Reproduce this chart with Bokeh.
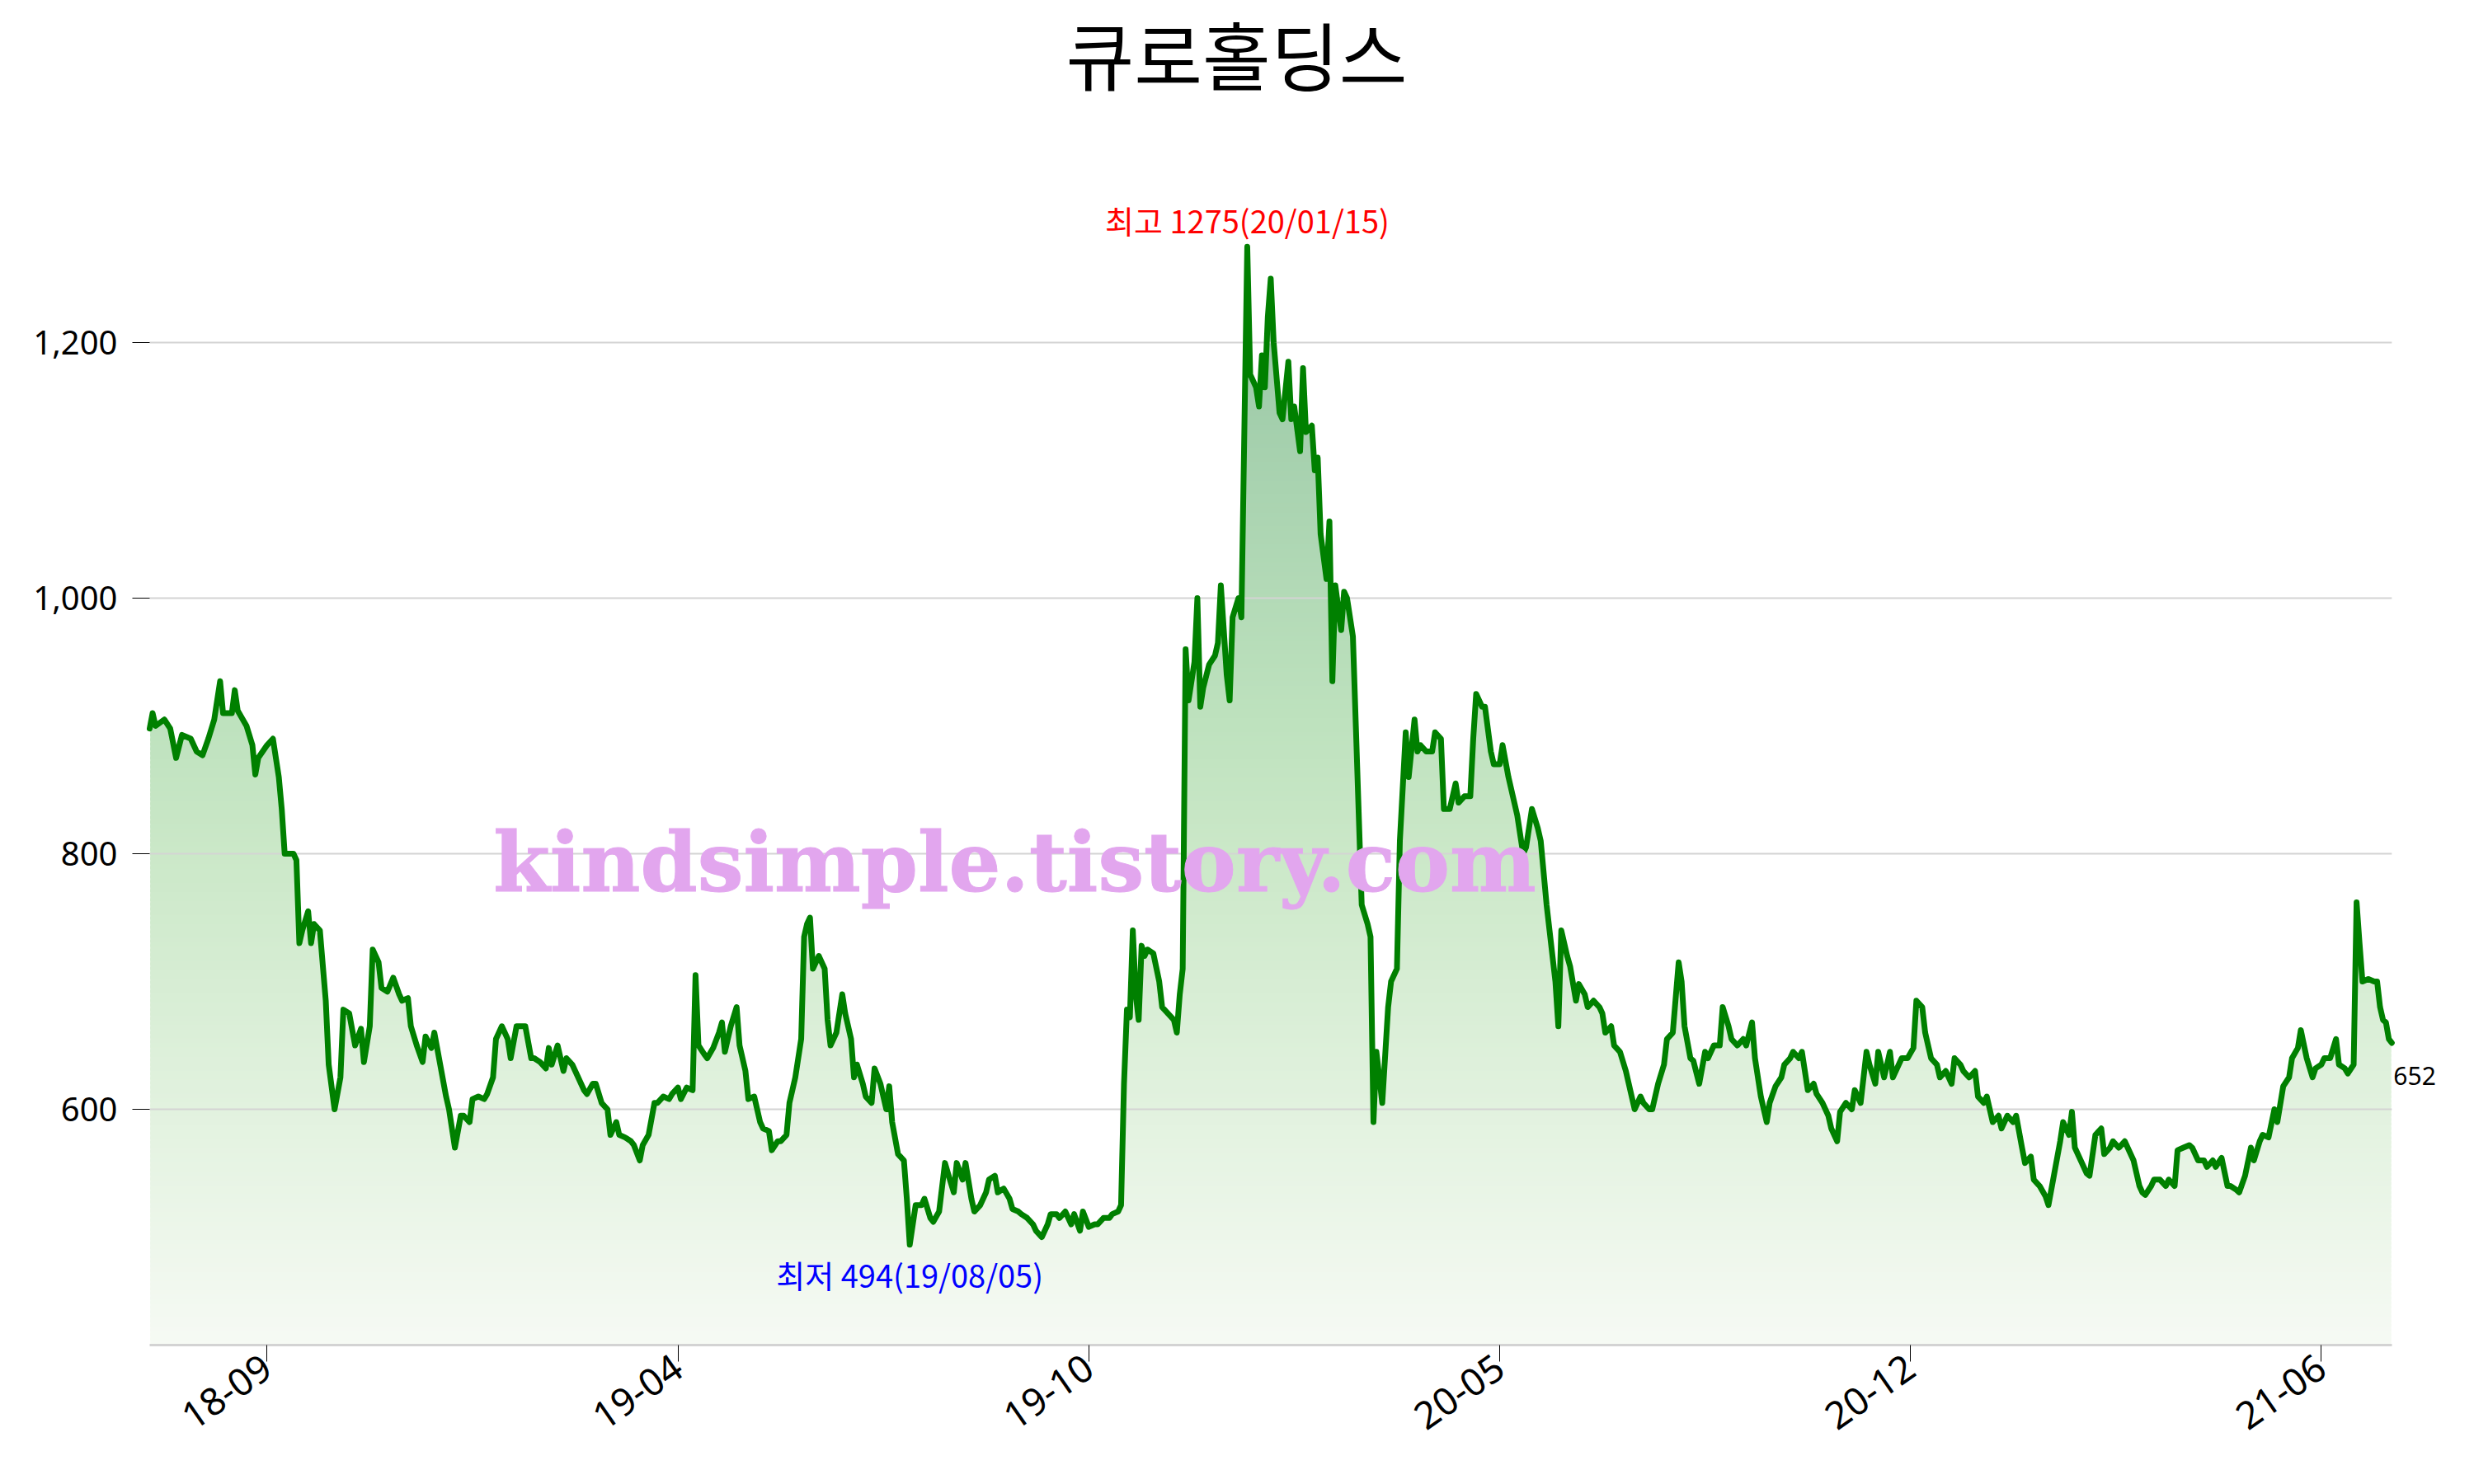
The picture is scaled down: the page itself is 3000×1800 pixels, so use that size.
import numpy as np
from math import radians
from bokeh.plotting import figure
from bokeh.models import Range1d, FixedTicker, NumeralTickFormatter, Label
from bokeh.embed import file_html
from bokeh.resources import INLINE

title_text = "큐로홀딩스"
high_date = "20/01/15"
low_date = "19/08/05"
watermark_text = "kindsimple.tistory.com"

# trading-day number (from first day shown) and closing price
day = [0, 1, 2, 5, 7, 9, 11, 14, 16, 18, 20, 22, 24, 25, 28, 29, 30, 33, 35, 36, 37, 40, 42, 44, 45, 46, 49, 50, 51, 52,
       54, 55, 56, 58, 60, 61, 63, 65, 66, 68, 70, 72, 73, 75, 76, 78, 79, 81, 83, 85, 86, 88, 89, 91, 93, 94, 96, 97, 99, 101,
       102, 104, 106, 107, 109, 110, 112, 114, 115, 117, 118, 120, 122, 123, 125, 127, 128, 130, 131, 133, 135, 136, 137, 139, 141, 142, 144, 145, 148, 149,
       151, 152, 154, 156, 157, 159, 160, 162, 164, 165, 167, 168, 170, 172, 173, 175, 177, 178, 180, 181, 183, 185, 186, 187, 189, 190, 192, 194, 195, 196,
       198, 200, 201, 203, 204, 206, 208, 209, 211, 212, 214, 215, 217, 218, 220, 222, 223, 224, 225, 226, 228, 230, 231, 232, 234, 236, 237, 239, 240, 241,
       243, 244, 246, 247, 249, 251, 252, 253, 255, 257, 258, 259, 261, 263, 264, 266, 267, 269, 271, 272, 274, 275, 277, 278, 280, 281, 283, 285, 286, 288,
       289, 291, 293, 294, 296, 297, 299, 301, 302, 304, 306, 307, 309, 310, 312, 314, 315, 317, 318, 320, 322, 323, 325, 327, 328, 330, 331, 332, 333, 334,
       335, 336, 337, 338, 339, 340, 342, 344, 345, 347, 349, 350, 351, 352, 353, 354, 356, 357, 358, 359, 361, 363, 364, 365, 366, 367, 368, 369, 371, 372,
       374, 375, 377, 378, 379, 380, 381, 382, 383, 385, 386, 388, 389, 390, 392, 393, 394, 396, 397, 398, 399, 401, 402, 403, 404, 406, 407, 408, 410, 411,
       413, 415, 416, 417, 418, 420, 422, 423, 425, 426, 428, 429, 431, 432, 433, 435, 437, 438, 440, 441, 443, 445, 446, 448, 450, 451, 452, 454, 455, 457,
       458, 460, 461, 463, 465, 466, 468, 469, 471, 473, 474, 476, 477, 479, 480, 481, 483, 484, 486, 487, 489, 490, 492, 494, 495, 496, 498, 499, 501, 503,
       504, 506, 508, 509, 511, 512, 514, 516, 517, 519, 521, 522, 523, 525, 526, 528, 530, 531, 533, 535, 536, 538, 539, 541, 543, 544, 546, 547, 549, 551,
       552, 554, 556, 557, 559, 560, 562, 563, 565, 567, 568, 570, 572, 573, 575, 576, 578, 580, 581, 583, 585, 586, 588, 589, 591, 593, 594, 596, 597, 599,
       601, 602, 604, 605, 607, 609, 610, 612, 614, 615, 617, 618, 620, 622, 623, 625, 626, 628, 630, 631, 633, 635, 636, 638, 639, 641, 642, 644, 646, 647,
       649, 651, 652, 654, 655, 656, 658, 660, 661, 663, 665, 666, 668, 669, 671, 673, 674, 676, 678, 679, 680, 682, 683, 685, 687, 688, 690, 691, 693, 695,
       696, 698, 700, 701, 703, 704, 706, 708, 709, 711, 712, 714, 716, 717, 719, 720, 722, 724, 725, 727, 729, 730, 732, 733, 735, 737, 738, 740, 741, 743,
       745, 746, 748, 749, 751, 752, 753, 754, 756, 758, 759, 760, 761, 762, 763, 764]
close = [898, 910, 900, 905, 898, 875, 893, 890, 880, 877, 890, 905, 935, 910, 910, 928, 912, 900, 885, 862, 875, 885, 890, 860, 835, 800, 800, 795, 730, 740,
         755, 730, 745, 740, 685, 635, 600, 625, 678, 675, 650, 663, 637, 665, 725, 715, 695, 692, 703, 690, 685, 687, 665, 650, 637, 657, 648, 660, 635, 610,
         600, 570, 595, 595, 590, 608, 610, 608, 612, 625, 655, 665, 655, 640, 665, 665, 665, 640, 640, 637, 632, 648, 635, 650, 630, 640, 635, 630, 615, 612,
         620, 620, 605, 600, 580, 590, 580, 578, 575, 572, 560, 572, 580, 605, 605, 610, 608, 612, 617, 608, 617, 615, 705, 650, 643, 640, 648, 660, 668, 645,
         665, 680, 650, 630, 608, 610, 590, 585, 583, 568, 575, 575, 580, 605, 625, 655, 735, 745, 750, 710, 720, 710, 670, 650, 660, 690, 675, 655, 625, 635,
         620, 610, 605, 632, 620, 600, 618, 590, 565, 560, 530, 494, 525, 525, 530, 515, 512, 520, 558, 550, 535, 558, 545, 558, 530, 520, 525, 535, 545, 548,
         535, 538, 530, 522, 520, 518, 515, 510, 505, 500, 510, 518, 518, 515, 520, 510, 518, 505, 520, 508, 510, 510, 515, 515, 518, 520, 525, 620, 678, 672,
         740, 690, 670, 728, 720, 725, 722, 700, 680, 675, 670, 660, 690, 710, 960, 920, 950, 1000, 915, 930, 948, 955, 965, 1010, 975, 940, 920, 985, 1000, 985,
         1275, 1175, 1165, 1150, 1190, 1165, 1220, 1250, 1200, 1145, 1140, 1185, 1140, 1150, 1115, 1180, 1130, 1135, 1100, 1110, 1050, 1015, 1060, 935, 1010, 975, 1005, 1000, 970, 900,
         760, 745, 735, 590, 645, 605, 680, 700, 710, 810, 895, 860, 905, 880, 885, 880, 880, 895, 890, 835, 835, 855, 840, 845, 845, 890, 925, 915, 915, 880,
         870, 870, 885, 860, 840, 830, 800, 805, 835, 820, 810, 760, 740, 700, 665, 740, 720, 712, 685, 698, 690, 680, 685, 680, 675, 660, 665, 650, 645, 630,
         620, 600, 610, 605, 600, 600, 620, 635, 655, 660, 715, 700, 665, 640, 638, 620, 645, 640, 650, 650, 680, 665, 655, 650, 655, 650, 668, 640, 610, 590,
         605, 618, 625, 635, 640, 645, 640, 645, 615, 620, 612, 605, 595, 585, 575, 598, 605, 600, 615, 605, 645, 635, 620, 645, 625, 645, 625, 635, 640, 640,
         648, 685, 680, 660, 640, 635, 625, 630, 620, 640, 635, 630, 625, 630, 610, 605, 610, 590, 595, 585, 595, 590, 595, 570, 558, 563, 545, 540, 532, 525,
         550, 575, 590, 580, 598, 570, 560, 550, 548, 580, 585, 565, 570, 575, 570, 575, 570, 560, 540, 535, 533, 540, 545, 545, 540, 545, 540, 568, 570, 572,
         570, 560, 560, 555, 560, 555, 562, 540, 540, 537, 535, 548, 570, 560, 575, 580, 578, 600, 590, 618, 625, 640, 648, 662, 640, 625, 632, 635, 640, 640,
         655, 635, 632, 628, 635, 762, 730, 700, 702, 700, 700, 680, 670, 668, 655, 652]

x_tick_days = [40, 180, 320, 460, 600, 740]
x_tick_labels = ["18-09", "19-04", "19-10", "20-05", "20-12", "21-06"]
y_ticks = [600, 800, 1000, 1200]

# ---- figure -------------------------------------------------------------
y_lo, y_hi = 415.5, 1462.6
x_end = day[-1] + 20          # room right of the last point for its value label
p = figure(width=2984, height=1784, output_backend="svg", toolbar_location=None, title=None,
           x_range=Range1d(day[0], x_end), y_range=Range1d(y_lo, y_hi),
           min_border_left=181, min_border_right=13, min_border_top=8, min_border_bottom=153)
p.outline_line_color = None
p.background_fill_color = "white"
p.border_fill_color = "white"

# gradient area under the line (horizontal colour bands, masked above the line)
hi_v = max(close)
stops_t = [0.0, 0.215, 0.448, 0.564, 1.0]
stops_c = [(246, 250, 244), (226, 242, 223), (203, 232, 200), (190, 226, 190), (148, 196, 162)]
edges = np.linspace(y_lo, hi_v, 241)
step = edges[1] - edges[0]
mids = (edges[:-1] + edges[1:]) / 2
tt = (mids - y_lo) / (hi_v - y_lo)
cols = []
for t in tt:
    rgb = [int(round(np.interp(t, stops_t, [c[k] for c in stops_c]))) for k in range(3)]
    cols.append("#%02x%02x%02x" % tuple(rgb))
inset = 0.2  # keep band edges inside the white mask so no seam shows at the sides
p.quad(left=day[0] + inset, right=day[-1] - inset, bottom=edges[:-1], top=edges[1:] + 0.6 * step,
       fill_color=cols, line_color=None)
p.varea(x=day, y1=close, y2=hi_v + 5, fill_color="white")

# horizontal grid lines spanning the data
grid_r = p.segment(x0=day[0], x1=day[-1], y0=y_ticks, y1=y_ticks, line_color="#d4d4d4", line_width=2)
grid_r.level = "guide"

line_r = p.line(day, close, line_color="#008000", line_width=7, line_join="round", line_cap="round")
line_r.level = "annotation"

# axes
p.xgrid.visible = False
p.ygrid.visible = False

p.yaxis.ticker = FixedTicker(ticks=y_ticks)
p.yaxis.formatter = NumeralTickFormatter(format="0,0")
p.yaxis.axis_line_color = None
p.yaxis.major_tick_out = 21
p.yaxis.major_tick_in = 0
p.yaxis.minor_tick_line_color = None
p.yaxis.major_tick_line_color = "black"
p.yaxis.major_label_standoff = 18
p.yaxis.major_label_text_font = "Noto Sans"
p.yaxis.major_label_text_font_size = "40px"
p.yaxis.major_label_text_color = "black"

p.xaxis.ticker = FixedTicker(ticks=x_tick_days)
p.xaxis.major_label_overrides = dict(zip(x_tick_days, x_tick_labels))
p.xaxis.bounds = (day[0], day[-1])
p.xaxis.axis_line_color = "#d3d3d3"
p.xaxis.axis_line_width = 3
p.xaxis.major_tick_out = 20
p.xaxis.major_tick_in = 0
p.xaxis.minor_tick_line_color = None
p.xaxis.major_tick_line_color = "black"
p.xaxis.major_label_orientation = radians(35)
p.xaxis.major_label_standoff = 2
p.xaxis.major_label_text_font = "Noto Sans"
p.xaxis.major_label_text_font_size = "46px"
p.xaxis.major_label_text_color = "black"

# annotations
hi_i = int(np.argmax(close))
lo_i = int(np.argmin(close))
p.add_layout(Label(x=day[hi_i], y=close[hi_i], text=f"최고 {close[hi_i]}({high_date})",
                   text_align="center", text_baseline="alphabetic", y_offset=33,
                   text_color="red", text_font="Noto Sans CJK KR", text_font_size="38px"))
p.add_layout(Label(x=day[lo_i], y=close[lo_i], text=f"최저 {close[lo_i]}({low_date})",
                   text_align="center", text_baseline="alphabetic", y_offset=-36,
                   text_color="blue", text_font="Noto Sans CJK KR", text_font_size="38px"))
p.add_layout(Label(x=day[-1], y=close[-1], text=str(close[-1]),
                   text_align="left", text_baseline="alphabetic", x_offset=2, y_offset=-40,
                   text_color="black", text_font="Noto Sans", text_font_size="30px"))

# title
p.add_layout(Label(x=day[0], y=y_hi, text=title_text, x_offset=1318, y_offset=-55,
                   text_align="center", text_baseline="middle",
                   text_color="black", text_font="Noto Sans CJK KR", text_font_size="90px"))

# watermark
wm = Label(x=day[0], y=y_hi, text=watermark_text, x_offset=1049, y_offset=-1037,
           text_align="center", text_baseline="alphabetic",
           text_color="#e2a6ee", text_font="DejaVu Serif", text_font_style="bold",
           text_font_size="99px", text_outline_color="#e2a6ee")
wm.level = "overlay"
p.add_layout(wm)

open("out.html", "w").write(file_html(p, INLINE))
